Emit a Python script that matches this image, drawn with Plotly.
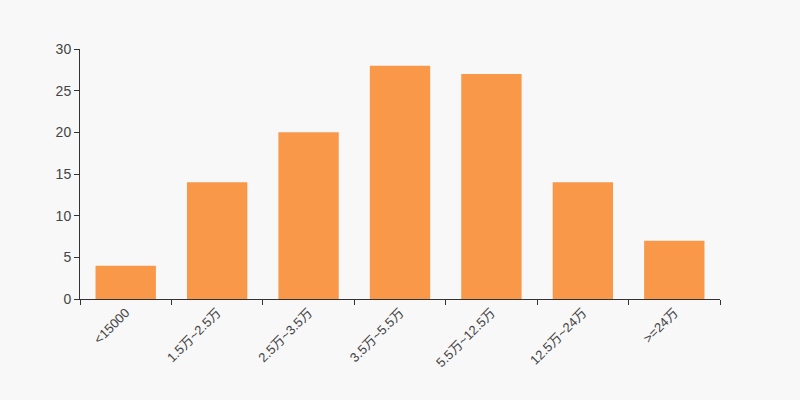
import plotly.graph_objects as go

categories = ["<15000", "1.5万~2.5万", "2.5万~3.5万", "3.5万~5.5万", "5.5万~12.5万", "12.5万~24万", ">=24万"]
values = [4, 14, 20, 28, 27, 14, 7]
y_ticks = [0, 5, 10, 15, 20, 25, 30]

fig = go.Figure(go.Bar(x=categories, y=values, marker=dict(color="#f89848", line=dict(width=0))))

fig.update_layout(
    width=800, height=400,
    paper_bgcolor="#f8f8f8", plot_bgcolor="#f8f8f8",
    margin=dict(l=80, r=80, t=49, b=101),
    bargap=0.34,
    font=dict(family="Liberation Sans, Arial, Noto Sans CJK SC", size=13, color="#444"),
    showlegend=False,
)
fig.update_xaxes(
    showline=True, linecolor="#333", linewidth=1,
    ticks="outside", tickson="boundaries", ticklen=5, tickcolor="#333",
    tickangle=-45, showgrid=False, tickfont=dict(size=13, color="#444"),
)
fig.update_yaxes(
    range=[0, 30], tickvals=y_ticks, showline=True, linecolor="#333", linewidth=1,
    ticks="outside", ticklen=5, tickcolor="#333", showgrid=False, zeroline=False,
    tickfont=dict(size=14, color="#444"),
)
fig.write_html("out.html", config={"displayModeBar": False},
               post_script="document.body.style.margin='0';document.body.style.background='#f8f8f8';")
